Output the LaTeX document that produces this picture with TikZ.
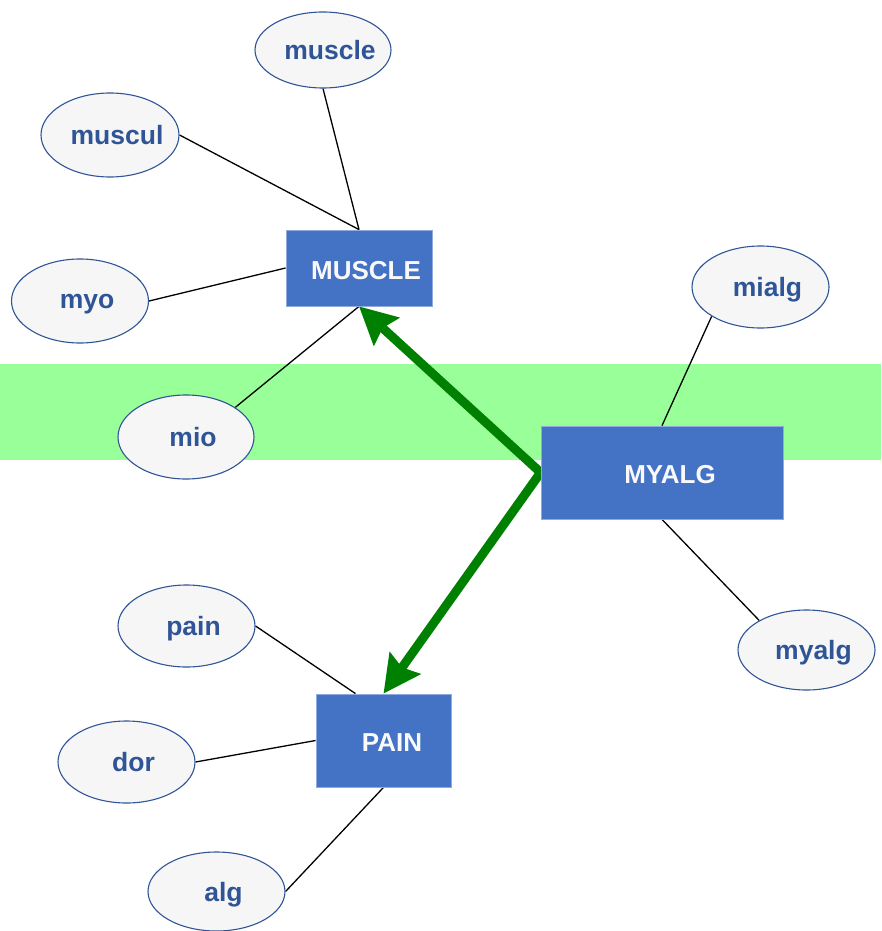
\documentclass[tikz,border=0pt]{standalone}
\usepackage{fontspec}
\setmainfont{Liberation Sans}
\usetikzlibrary{arrows.meta,backgrounds,calc,shapes.geometric}
\definecolor{boxblue}{RGB}{68,114,196}
\definecolor{boxedge}{RGB}{143,170,220}
\definecolor{termblue}{RGB}{47,85,151}
\definecolor{termfill}{RGB}{246,246,246}
\definecolor{bandgreen}{RGB}{153,255,153}
\definecolor{arrowgreen}{RGB}{0,128,0}
% label set a little right of the shape centre, without widening the shape
\newcommand{\offlabel}[2]{\makebox[0pt]{\hspace*{#1}#2}}
\tikzset{
  term/.style={ellipse, draw=termblue, line width=1.1pt, fill=termfill,
    inner sep=0pt, text depth=0pt, font=\fontsize{26.5}{30}\selectfont\bfseries, text=termblue},
  concept/.style={rectangle, draw=boxedge, line width=0.8pt, fill=boxblue,
    inner sep=0pt, text height=22pt, text depth=0pt,
    font=\fontsize{26}{30}\selectfont\bfseries, text=white!95!gray},
  link/.style={draw=black, line width=1.3pt},
  relation/.style={draw=arrowgreen, line width=9pt,
    -{Stealth[length=37pt,width=37pt,inset=5pt]}}
}
\begin{document}
\begin{tikzpicture}[x=1pt,y=-1pt]
\useasboundingbox (0,0) rectangle (881,931);

% concept boxes
\node[concept, minimum width=146pt, minimum height=76pt] (MUSCLE) at (359,268) {\offlabel{14pt}{MUSCLE}};
\node[concept, minimum width=242pt, minimum height=93pt] (MYALG) at (662,472.5) {\offlabel{16pt}{MYALG}};
\node[concept, minimum width=135pt, minimum height=93pt] (PAIN) at (383.5,740.5) {\offlabel{17pt}{PAIN}};

% term ellipses
\node[term, minimum width=136pt, minimum height=76pt] (muscle) at (323,50) {\offlabel{14pt}{muscle}};
\node[term, minimum width=138pt, minimum height=84pt] (muscul) at (110,135) {\offlabel{14pt}{muscul}};
\node[term, minimum width=137pt, minimum height=84pt] (myo) at (80,301) {\offlabel{14pt}{myo}};
\node[term, minimum width=136pt, minimum height=84pt] (mio) at (186,437) {\offlabel{14pt}{mio}};
\node[term, minimum width=137pt, minimum height=82pt] (mialg) at (760.5,287) {\offlabel{14pt}{mialg}};
\node[term, minimum width=137pt, minimum height=80pt] (myalg) at (806.5,650) {\offlabel{14pt}{myalg}};
\node[term, minimum width=137pt, minimum height=82pt] (pain) at (186.5,626) {\offlabel{14pt}{pain}};
\node[term, minimum width=137pt, minimum height=82pt] (dor) at (126.5,762) {\offlabel{14pt}{dor}};
\node[term, minimum width=137pt, minimum height=79pt] (alg) at (216.5,891.5) {\offlabel{14pt}{alg}};

\begin{scope}[on background layer]
  % highlighted band
  \fill[bandgreen] (0,364) rectangle (881,460);
  % term links
  \draw[link] (muscle.south) -- (MUSCLE.north);
  \draw[link] (muscul.east) -- (MUSCLE.north);
  \draw[link] (myo.east) -- (MUSCLE.west);
  \draw[link] (mio.31) -- (MUSCLE.south);
  \draw[link] (mialg.211) -- (MYALG.north);
  \draw[link] (myalg.148) -- (MYALG.south);
  \draw[link] (pain.east) -- ([xshift=-28pt]PAIN.north);
  \draw[link] (dor.east) -- (PAIN.west);
  \draw[link] (alg.east) -- (PAIN.south);
  % relations from MYALG
  \draw[relation] (MYALG.west) -- (MUSCLE.south);
  \draw[relation] (MYALG.west) -- (PAIN.north);
\end{scope}
\end{tikzpicture}
\end{document}
